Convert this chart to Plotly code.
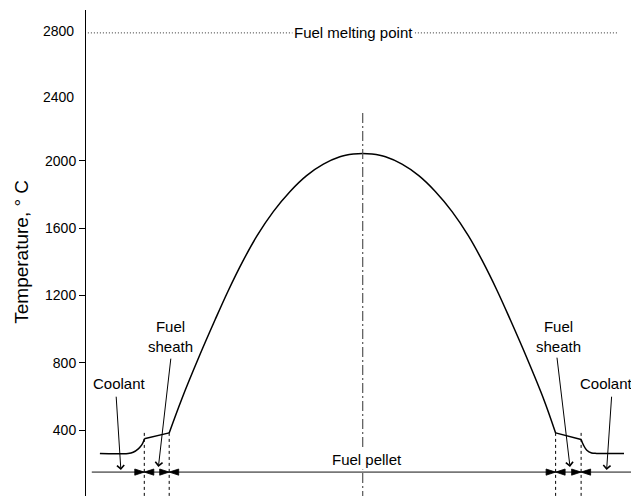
import plotly.graph_objects as go

# ---------------- data ----------------
# radial position (mm, 0 = pellet centre) and temperature (deg C)
coolant_left_r = [-8.76, -7.82, -7.65, -7.48, -7.37, -7.30, -7.28]
coolant_left_T = [260, 261, 268, 288, 310, 335, 348]
sheath_left_r = [-7.28, -6.45]
sheath_left_T = [348, 383]
fuel_r = [-6.45, -6.03, -5.48, -4.92, -4.49, -3.99, -3.52, -2.98, -2.42, -1.87, -1.31, -0.76, -0.31, 0.0,
          0.31, 0.76, 1.31, 1.87, 2.42, 2.98, 3.52, 3.99, 4.49, 4.92, 5.48, 6.03, 6.43]
fuel_T = [383, 585, 825, 1055, 1225, 1405, 1555, 1698, 1818, 1912, 1980, 2024, 2040, 2044,
          2040, 2024, 1980, 1912, 1818, 1698, 1555, 1405, 1225, 1055, 825, 585, 383]
sheath_right_r = [6.43, 7.28]
sheath_right_T = [383, 344]
coolant_right_r = [7.28, 7.36, 7.47, 7.63, 7.80, 8.71]
coolant_right_T = [344, 310, 280, 264, 261, 261]

boundaries_r = [-7.28, -6.45, 6.43, 7.28]   # coolant/sheath and sheath/fuel interfaces
boundary_top_T = 383
baseline_T = 150
melting_T = 2760
centre_top_T = 2284

ytick_vals = [400, 800, 1200, 1600, 2000]
extra_tick_labels = ["2400", "2800"]
extra_tick_pos = [2379, 2773]

x_range = [-9.223, 8.943]
y_range = [8, 2896]

FONT = "Liberation Sans, Arial, sans-serif"

fig = go.Figure()

# temperature profile
for rr, tt, shape in [(coolant_left_r, coolant_left_T, "spline"),
                      (sheath_left_r, sheath_left_T, "linear"),
                      (fuel_r, fuel_T, "spline"),
                      (sheath_right_r, sheath_right_T, "linear"),
                      (coolant_right_r, coolant_right_T, "spline")]:
    fig.add_trace(go.Scatter(x=rr, y=tt, mode="lines",
                             line=dict(color="black", width=1.5, shape=shape, smoothing=1.0),
                             showlegend=False, hoverinfo="skip"))

# baseline
fig.add_trace(go.Scatter(x=[-9.03, x_range[1]], y=[baseline_T, baseline_T], mode="lines",
                         line=dict(color="#777777", width=1.6), showlegend=False, hoverinfo="skip"))

# dimension arrowheads (bow-ties) at each interface
bx, ba = [], []
for b in boundaries_r:
    bx += [b, b]
    ba += [90, -90]
fig.add_trace(go.Scatter(x=bx, y=[baseline_T] * len(bx), mode="markers",
                         marker=dict(symbol="arrow", size=10, angle=ba, color="black",
                                     line=dict(color="black", width=0.8)),
                         showlegend=False, hoverinfo="skip"))

shapes = []
# vertical dotted lines at interfaces
for b in boundaries_r:
    shapes.append(dict(type="line", xref="x", yref="y", x0=b, x1=b, y0=boundary_top_T, y1=y_range[0],
                       line=dict(color="black", width=1, dash="dot")))
# centre line
shapes.append(dict(type="line", xref="x", yref="y", x0=0, x1=0, y0=centre_top_T, y1=y_range[0],
                   line=dict(color="#555555", width=1.2, dash="10px,3px,2px,3px")))
# melting point line
shapes.append(dict(type="line", xref="x", yref="y", x0=-9.16, x1=8.51, y0=melting_T, y1=melting_T,
                   line=dict(color="#333333", width=1, dash="1px,2px")))

annotations = []
annotations.append(dict(x=-0.3, y=melting_T, xref="x", yref="y", text="Fuel melting point",
                        showarrow=False, bgcolor="white", borderpad=1,
                        font=dict(family=FONT, size=15, color="black")))
annotations.append(dict(x=0.15, y=227, xref="x", yref="y", text="Fuel pellet", showarrow=False,
                        bgcolor="white", borderpad=1,
                        font=dict(family=FONT, size=15, color="black")))
for x, y, t in [(-8.09, 679, "Coolant"), (-6.42, 958, "Fuel<br>sheath"),
                (6.52, 958, "Fuel<br>sheath"), (8.13, 679, "Coolant")]:
    annotations.append(dict(x=x, y=y, xref="x", yref="y", text=t, showarrow=False,
                            font=dict(family=FONT, size=15, color="black")))
# pointer arrows (head, tail)
for hx, hy, tx, ty in [(-8.06, 162, -8.22, 607), (-6.81, 181, -6.39, 833),
                       (6.91, 181, 6.47, 839), (8.13, 162, 8.30, 607)]:
    annotations.append(dict(x=hx, y=hy, ax=tx, ay=ty, xref="x", yref="y", axref="x", ayref="y",
                            text="", showarrow=True, arrowhead=4, arrowsize=1.4, arrowwidth=1,
                            arrowcolor="black", standoff=0, startstandoff=0))
# labels without tick marks
for lab, pos in zip(extra_tick_labels, extra_tick_pos):
    annotations.append(dict(x=0, y=pos, xref="paper", yref="y", text=lab, showarrow=False,
                            xanchor="right", xshift=-10, font=dict(family=FONT, size=14, color="black")))
# y-axis title
annotations.append(dict(x=-0.1198, y=0.502, xref="paper", yref="paper", text="Temperature, ° C",
                        textangle=-90, showarrow=False, xanchor="center", yanchor="middle",
                        font=dict(family=FONT, size=19, color="black")))

fig.update_layout(
    width=631, height=496,
    margin=dict(l=86, r=0, t=10, b=0),
    paper_bgcolor="white", plot_bgcolor="white",
    shapes=shapes, annotations=annotations,
    xaxis=dict(visible=False, range=x_range, fixedrange=True),
    yaxis=dict(range=y_range, tickvals=ytick_vals, ticks="outside", ticklen=6, tickcolor="black",
               showline=True, linecolor="black", linewidth=1, showgrid=False, zeroline=False,
               tickfont=dict(family=FONT, size=14, color="black")),
    font=dict(family=FONT),
)

fig.write_html("out.html")
